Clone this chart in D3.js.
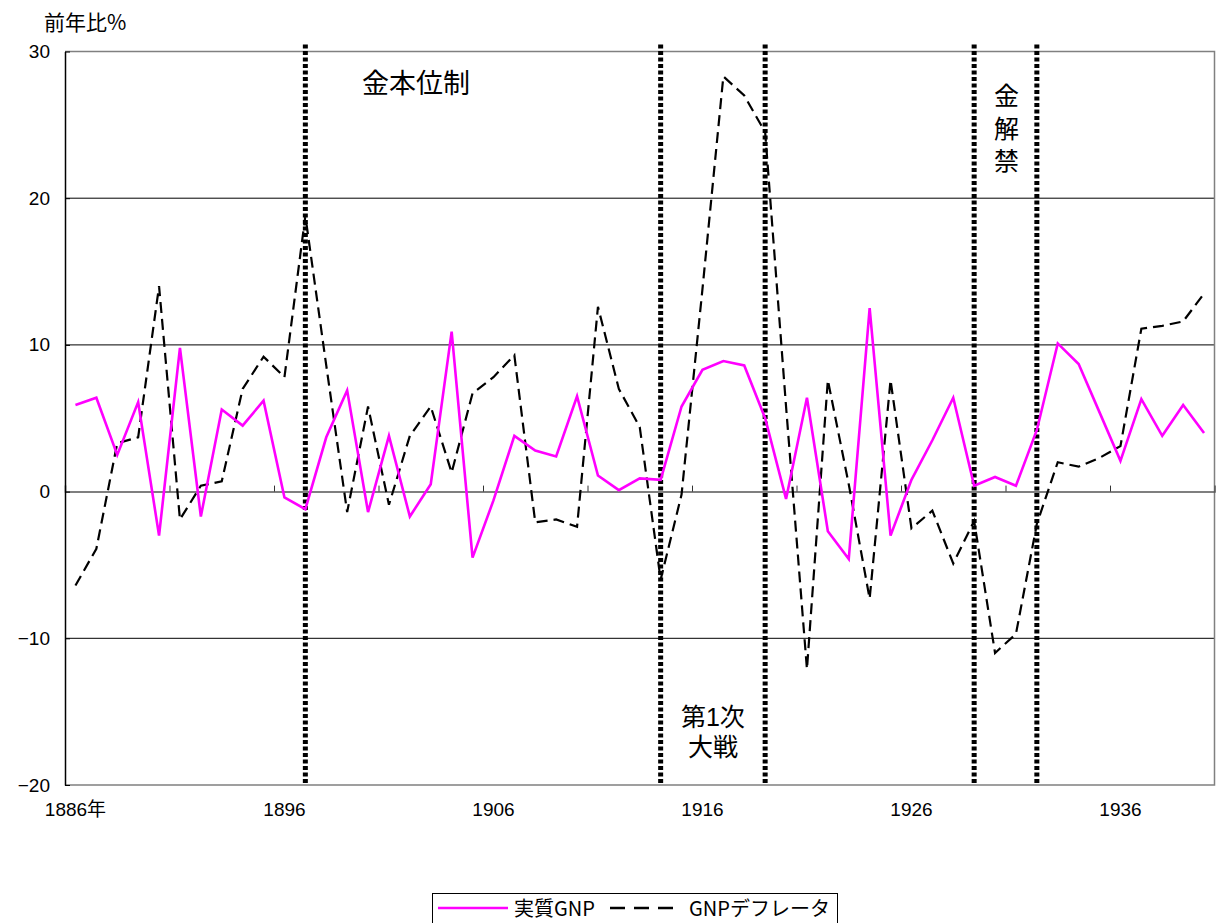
<!DOCTYPE html>
<html><head><meta charset="utf-8">
<script src="https://cdn.jsdelivr.net/npm/d3@7"></script>
<style>
body{margin:0;background:#fff;}
text{font-family:"Liberation Sans","Noto Sans CJK JP",sans-serif;}
.jp{font-family:"Noto Sans CJK JP",sans-serif;}
</style></head>
<body><svg id="c" width="1218" height="923"></svg>
<script>
const years = d3.range(1886, 1941);
const realGNP = [5.9,6.4,2.5,6.1,-3.0,9.8,-1.7,5.6,4.5,6.2,-0.4,-1.2,3.7,6.9,-1.4,3.8,-1.7,0.5,10.9,-4.5,-0.6,3.8,2.8,2.4,6.5,1.1,0.1,0.9,0.8,5.8,8.3,8.9,8.6,5.0,-0.5,6.4,-2.7,-4.6,12.5,-3.0,0.8,3.5,6.4,0.4,1.0,0.4,4.2,10.1,8.7,5.4,2.1,6.3,3.8,5.9,4.0];
const deflator = [-6.4,-3.9,3.3,3.7,14.0,-1.9,0.4,0.7,7.0,9.2,7.8,18.8,8.6,-1.4,5.8,-0.9,3.8,5.8,1.3,6.7,7.8,9.3,-2.1,-1.9,-2.4,12.6,7.0,4.4,-6.0,-0.2,13.8,28.3,27.0,24.5,5.8,-12.1,7.6,0.5,-7.3,7.6,-2.5,-1.3,-4.9,-2.0,-11.0,-9.7,-2.2,2.0,1.7,2.3,3.1,11.1,11.3,11.6,13.5];
const yTicks = [-20,-10,0,10,20,30];
const xLabelYears = [1886,1896,1906,1916,1926,1936];
const eventYears = [1897,1914,1919,1929,1932];
const seriesNames = ["実質GNP","GNPデフレータ"];

const svg = d3.select("#c");
const L = 65, R = 1214.5, T = 51.5, B = 785;
const x = d3.scaleBand().domain(years).range([L, R]).paddingInner(0).paddingOuter(0);
const xc = d => x(d) + x.bandwidth()/2;
const xi = d3.scaleLinear().domain([0, years.length]).range([L, R]);
const y = d3.scaleLinear().domain([-20, 30]).range([B, T]);

svg.append("g").selectAll("line").data([-10,10,20]).join("line")
  .attr("x1", L).attr("x2", R).attr("y1", d=>y(d)).attr("y2", d=>y(d))
  .attr("stroke", "#000").attr("stroke-width", 1);
svg.append("path").attr("d", `M${L},${y(30)}H${R}V${y(-20)}H${L}`)
  .attr("fill","none").attr("stroke","#808080").attr("stroke-width",1.5);

const gx = svg.append("g").attr("transform", `translate(0,${y(0)})`)
  .call(d3.axisTop(xi).tickValues(d3.range(5, years.length, 5)).tickSize(6).tickFormat(""));
gx.select(".domain").attr("stroke","#555").attr("stroke-width",1.5);
gx.selectAll(".tick line").attr("stroke","#333");

const gy = svg.append("g").attr("transform", `translate(${L},0)`)
  .call(d3.axisLeft(y).tickValues(yTicks).tickSizeInner(-5).tickSizeOuter(0).tickPadding(15));
gy.select(".domain").attr("stroke","#000").attr("stroke-width",1.5);
gy.selectAll(".tick line").attr("stroke","#000");
gy.selectAll(".tick text").attr("font-size", 19).attr("fill","#000").attr("font-family","Liberation Sans, sans-serif")
  .text(d => d < 0 ? "\u2212" + Math.abs(d) : String(d));

const gxl = svg.append("g").attr("transform", `translate(0,${B + 17})`)
  .call(d3.axisBottom(x).tickValues(xLabelYears).tickSize(0).tickPadding(0)
     .tickFormat(d => d === 1886 ? d + "年" : String(d)));
gxl.select(".domain").remove();
gxl.selectAll(".tick text").attr("font-size", 19).attr("fill","#000").attr("dy","0.71em")
  .attr("font-family","Liberation Sans, Noto Sans CJK JP, sans-serif");

svg.append("g").selectAll("line").data(eventYears).join("line")
  .attr("x1", d=>xc(d)).attr("x2", d=>xc(d)).attr("y1", y(30)-7).attr("y2", y(-20))
  .attr("stroke","#000").attr("stroke-width",5).attr("stroke-dasharray","4,2.5");

const line = d3.line().x((d,i)=>xc(years[i])).y(d=>y(d));
svg.append("path").datum(deflator).attr("d", line).attr("fill","none")
  .attr("stroke","#000").attr("stroke-width",2.2).attr("stroke-dasharray","11,6");
svg.append("path").datum(realGNP).attr("d", line).attr("fill","none")
  .attr("stroke","#ff00ff").attr("stroke-width",2.6);

const ann = svg.append("g").attr("class","jp").attr("fill","#000");
ann.append("text").attr("x", 416).attr("y", 93).attr("text-anchor","middle").attr("font-size",27).text("金本位制");
const wwx = (xc(1914)+xc(1919))/2;
ann.append("text").attr("x", wwx).attr("y", 726).attr("text-anchor","middle").attr("font-size",25).text("第1次");
ann.append("text").attr("x", wwx).attr("y", 756).attr("text-anchor","middle").attr("font-size",25).text("大戦");
["金","解","禁"].forEach((c,i)=>{
  ann.append("text").attr("x", (xc(1929)+xc(1932))/2 + 1).attr("y", 105 + i*32.5).attr("text-anchor","middle").attr("font-size",25).text(c);
});
svg.append("text").attr("class","jp").attr("x", 44).attr("y", 30).attr("font-size",21).text("前年比%");

const lg = svg.append("g");
lg.append("rect").attr("x", 432.5).attr("y", 893.5).attr("width", 405).attr("height", 40)
  .attr("fill","#fff").attr("stroke","#000").attr("stroke-width",1);
lg.append("line").attr("x1",438).attr("x2",508).attr("y1",908).attr("y2",908).attr("stroke","#ff00ff").attr("stroke-width",2.6);
lg.append("text").attr("class","jp").attr("x",514).attr("y",916).attr("font-size",20).text(seriesNames[0]);
lg.append("line").attr("x1",610).attr("x2",680).attr("y1",908).attr("y2",908).attr("stroke","#000").attr("stroke-width",2.6).attr("stroke-dasharray","15,9");
lg.append("text").attr("class","jp").attr("x",689).attr("y",916).attr("font-size",20).text(seriesNames[1]);
</script></body></html>
